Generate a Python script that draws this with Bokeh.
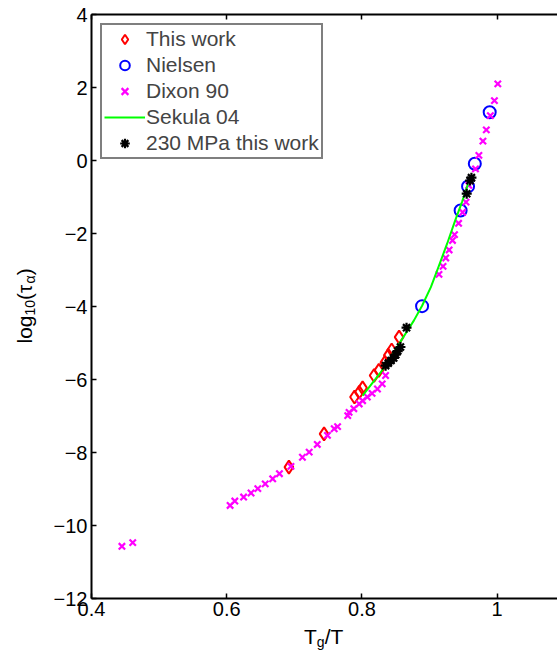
from bokeh.plotting import figure
from bokeh.models import FixedTicker, LinearAxis, Range1d
from bokeh.layouts import row, column
from bokeh.core.properties import value
from bokeh.embed import file_html
from bokeh.resources import INLINE
import math

# ---- data ----
this_work_x = [0.692, 0.744, 0.789, 0.796, 0.801, 0.818, 0.825, 0.834, 0.839, 0.844, 0.855]
this_work_y = [-8.40, -7.49, -6.48, -6.35, -6.23, -5.89, -5.75, -5.53, -5.34, -5.19, -4.84]

nielsen_x = [0.889, 0.946, 0.957, 0.967, 0.989]
nielsen_y = [-3.99, -1.37, -0.71, -0.09, 1.32]

dixon_x = [0.445, 0.461, 0.605, 0.612, 0.625, 0.636, 0.646, 0.657, 0.668, 0.678, 0.695,
           0.712, 0.722, 0.734, 0.749, 0.759, 0.764, 0.779, 0.781, 0.788, 0.796, 0.801,
           0.808, 0.815, 0.823, 0.830, 0.835, 0.914, 0.920, 0.924, 0.929, 0.934, 0.937,
           0.943, 0.949, 0.954, 0.958, 0.968, 0.973, 0.979, 0.984, 0.990, 0.996, 1.001]
dixon_y = [-10.57, -10.47, -9.45, -9.33, -9.22, -9.11, -8.99, -8.86, -8.72, -8.58, -8.38,
           -8.13, -7.99, -7.78, -7.53, -7.35, -7.29, -6.99, -6.90, -6.80, -6.67, -6.58,
           -6.48, -6.38, -6.26, -6.12, -5.89, -3.12, -2.90, -2.67, -2.45, -2.19, -2.03,
           -1.72, -1.42, -1.14, -0.68, -0.23, 0.14, 0.53, 0.84, 1.23, 1.64, 2.10]

sekula_x = [0.801, 0.828, 0.852, 0.877, 0.889, 0.902, 0.914, 0.926, 0.938, 0.948, 0.957]
sekula_y = [-6.44, -5.80, -5.11, -4.38, -3.98, -3.47, -2.88, -2.28, -1.64, -1.14, -0.64]

mpa_x = [0.835, 0.839, 0.843, 0.847, 0.850, 0.853, 0.857, 0.866, 0.955, 0.960, 0.962]
mpa_y = [-5.62, -5.55, -5.48, -5.41, -5.32, -5.22, -5.11, -4.58, -0.91, -0.55, -0.47]

x_ticks = [0.4, 0.6, 0.8, 1.0]
x_tick_labels = ["0.4", "0.6", "0.8", "1"]
y_ticks = [-12, -10, -8, -6, -4, -2, 0, 2, 4]
y_tick_labels = ["\u221212", "\u221210", "\u22128", "\u22126", "\u22124", "\u22122", "0", "2", "4"]

FONT = "Liberation Sans"
X_RANGE = (0.4, 1.0893)

# ---- main plot ----
p = figure(width=507, height=626, output_backend="svg", toolbar_location=None, title=None,
           x_range=Range1d(*X_RANGE), y_range=Range1d(-12, 4),
           min_border_left=40, min_border_right=0, min_border_top=14, min_border_bottom=28)
p.outline_line_color = None
p.xgrid.visible = False
p.ygrid.visible = False
p.background_fill_color = "white"
p.border_fill_color = "white"

for ax in (p.xaxis[0], p.yaxis[0]):
    ax.axis_line_width = 2
    ax.axis_line_color = "black"
    ax.major_tick_in = 5
    ax.major_tick_out = 0
    ax.major_tick_line_width = 1.5
    ax.minor_tick_line_color = None
    ax.major_label_text_font = FONT
    ax.major_label_text_font_size = "20px"
    ax.major_label_text_color = "black"
p.xaxis[0].major_label_standoff = 3
p.yaxis[0].major_label_standoff = 4

p.xaxis[0].ticker = FixedTicker(ticks=x_ticks)
p.xaxis[0].major_label_overrides = {t: l for t, l in zip(x_ticks, x_tick_labels)}
p.yaxis[0].ticker = FixedTicker(ticks=y_ticks)
p.yaxis[0].major_label_overrides = {t: l for t, l in zip(y_ticks, y_tick_labels)}

top = LinearAxis(ticker=FixedTicker(ticks=x_ticks), axis_line_width=2, major_tick_in=5,
                 major_tick_out=0, major_tick_line_width=1.5, minor_tick_line_color=None,
                 major_label_text_font_size="1px", major_label_text_color=None,
                 major_label_standoff=0)
p.add_layout(top, "above")

p.scatter(this_work_x, this_work_y, marker="diamond", size=13, line_color="#ff0000",
          fill_color=None, line_width=2, legend_label="This work")
p.scatter(nielsen_x, nielsen_y, marker="circle", size=12, line_color="#0000ff",
          fill_color=None, line_width=2, legend_label="Nielsen")
p.scatter(dixon_x, dixon_y, marker="x", size=9, line_color="#ff00ff",
          line_width=2.2, legend_label="Dixon 90")
p.line(sekula_x, sekula_y, line_color="#00ff00", line_width=2, legend_label="Sekula 04")
p.scatter(mpa_x, mpa_y, marker="asterisk", size=10, line_color="black",
          line_width=2.2, legend_label="230 MPa this work")

lg = p.legend[0]
lg.location = (9, 439)
lg.label_text_font = FONT
lg.label_text_font_size = "21px"
lg.label_height = 24
lg.glyph_height = 24
lg.glyph_width = 41
lg.spacing = 2
lg.padding = 2
lg.margin = 0
lg.label_standoff = 1
lg.border_line_color = "black"
lg.border_line_width = 2
lg.background_fill_color = "white"
lg.background_fill_alpha = 1


def text_panel(w, h, xr, yr):
    f = figure(width=w, height=h, output_backend="svg", toolbar_location=None, title=None,
               x_range=Range1d(*xr), y_range=Range1d(*yr),
               x_axis_location=None, y_axis_location=None,
               min_border_left=0, min_border_right=0, min_border_top=0, min_border_bottom=0)
    f.outline_line_color = None
    f.xgrid.visible = False
    f.ygrid.visible = False
    f.background_fill_color = "white"
    f.border_fill_color = "white"
    return f


def piece(f, s, x, y, size, angle=0.0):
    f.text(x=[x], y=[y], text=[s], text_font=value(FONT), text_font_size=value(size),
           text_color="black", angle=angle, text_align="left", text_baseline="alphabetic")


# ---- x title: T_g/T (panel frame aligned with the main frame, x in data units) ----
xl = text_panel(507, 25, X_RANGE, (0, 25))
piece(xl, "T", 0.7144, 15, "21px")
piece(xl, "g", 0.7333, 10, "14px")
piece(xl, "/T", 0.7450, 15, "21px")

# ---- y title: log_10(tau_alpha) ----
yl = text_panel(50, 651, (0, 50), (0, 651))
A = math.pi / 2
piece(yl, "log", 24, 308, "21px", A)
piece(yl, "10", 29, 336, "14px", A)
piece(yl, "(\u03c4", 24, 351.6, "21px", A)
piece(yl, "\u03b1", 29, 368.1, "14px", A)
piece(yl, ")", 24, 376.2, "21px", A)

layout = row(yl, column(p, xl, spacing=0), spacing=0)

open("out.html", "w").write(file_html(layout, INLINE))
